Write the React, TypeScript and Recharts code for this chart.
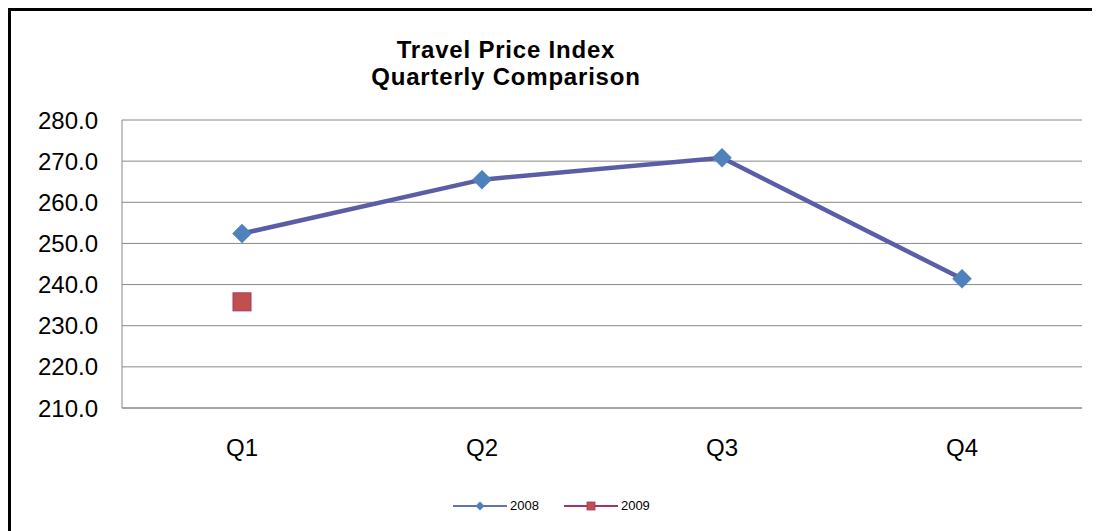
import React from "react";
import { LineChart, Line, XAxis, YAxis, CartesianGrid } from "recharts";

const quarters = ["Q1", "Q2", "Q3", "Q4"];
const series2008 = [252.4, 265.5, 270.8, 241.4];
const series2009: (number | null)[] = [235.8, null, null, null];
const yTicks = [210, 220, 230, 240, 250, 260, 270, 280];
const titleLines = ["Travel Price Index", "Quarterly Comparison"];
const seriesNames = ["2008", "2009"];

const COLORS = {
  line2008: "#5b5ea6",
  dot2008: "#4f81bd",
  legend2008: "#6670b4",
  line2009: "#a3346a",
  dot2009: "#c0504d",
  grid: "#888888",
};

const data = quarters.map((q, i) => ({
  quarter: q,
  y2008: series2008[i],
  y2009: series2009[i],
}));

const FONT = '"Liberation Sans", Arial, sans-serif';

const Diamond = (props: any) => {
  const { cx, cy, value } = props;
  if (value == null || cx == null || cy == null) return <g key={props.key} />;
  return (
    <polygon
      key={props.key}
      points={`${cx},${cy - 9.5} ${cx + 9.5},${cy} ${cx},${cy + 9.5} ${cx - 9.5},${cy}`}
      fill={COLORS.dot2008}
      stroke="#4a78b2"
      strokeWidth={0.5}
    />
  );
};

const Square = (props: any) => {
  const { cx, cy, value } = props;
  if (value == null || cx == null || cy == null) return <g key={props.key} />;
  return (
    <rect
      key={props.key}
      x={cx - 9}
      y={cy - 9}
      width={18}
      height={18}
      fill={COLORS.dot2009}
      stroke="#a3346a"
      strokeWidth={1}
    />
  );
};

function LegendItem({ name, idx }: { name: string; idx: number }) {
  return (
    <div style={{ display: "flex", alignItems: "center", marginRight: idx === 0 ? 25 : 0 }}>
      <svg width={54} height={14}>
        <line
          x1={0}
          y1={7}
          x2={54}
          y2={7}
          stroke={idx === 0 ? COLORS.legend2008 : COLORS.line2009}
          strokeWidth={2}
        />
        {idx === 0 ? (
          <polygon points="27,2.5 31.5,7 27,11.5 22.5,7" fill={COLORS.dot2008} />
        ) : (
          <rect x={23} y={3} width={8} height={8} fill={COLORS.dot2009} stroke="#a3346a" strokeWidth={0.8} />
        )}
      </svg>
      <span style={{ marginLeft: 3, fontSize: 13, color: "#000" }}>{name}</span>
    </div>
  );
}

export default function App() {
  return (
    <>
      <style>{"html,body{overflow:hidden}"}</style>
      <div
        style={{
          position: "relative",
          boxSizing: "border-box",
          width: 1092,
          height: 523,
          borderTop: "3px solid #000",
          borderLeft: "3px solid #000",
          background: "#fff",
          fontFamily: FONT,
        }}
      >
        {titleLines.map((t, i) => (
          <div
            key={t}
            style={{
              position: "absolute",
              left: 0,
              top: 25 + i * 27,
              width: 990,
              textAlign: "center",
              fontWeight: "bold",
              fontSize: 24,
              letterSpacing: 0.8,
              lineHeight: "27px",
              color: "#000",
            }}
          >
            {t}
          </div>
        ))}
        <LineChart
          width={1089}
          height={520}
          data={data}
          margin={{ top: 109, right: 18, left: 0, bottom: 63 }}
        >
          <CartesianGrid vertical={false} stroke={COLORS.grid} strokeWidth={1} />
          <XAxis
            dataKey="quarter"
            padding={{ left: 120, right: 120 }}
            height={60}
            tickLine={false}
            tickSize={0}
            tickMargin={31}
            axisLine={{ stroke: COLORS.grid }}
            tick={{ fill: "#000", fontSize: 24, fontFamily: FONT }}
          />
          <YAxis
            domain={[210, 280]}
            ticks={yTicks}
            width={111}
            interval={0}
            tickLine={false}
            tickSize={0}
            tickMargin={24}
            allowDataOverflow
            axisLine={{ stroke: COLORS.grid }}
            tickFormatter={(v: number) => v.toFixed(1)}
            tick={{ fill: "#000", fontSize: 24, fontFamily: FONT }}
          />
          <Line
            type="linear"
            dataKey="y2008"
            name={seriesNames[0]}
            stroke={COLORS.line2008}
            strokeWidth={4.5}
            dot={Diamond}
            activeDot={false}
            isAnimationActive={false}
          />
          <Line
            type="linear"
            dataKey="y2009"
            name={seriesNames[1]}
            stroke={COLORS.line2009}
            strokeWidth={4.5}
            dot={Square}
            activeDot={false}
            isAnimationActive={false}
          />
        </LineChart>
        <div
          style={{
            position: "absolute",
            left: 442,
            top: 487,
            display: "flex",
            alignItems: "center",
          }}
        >
          {seriesNames.map((n, i) => (
            <LegendItem key={n} name={n} idx={i} />
          ))}
        </div>
      </div>
    </>
  );
}
